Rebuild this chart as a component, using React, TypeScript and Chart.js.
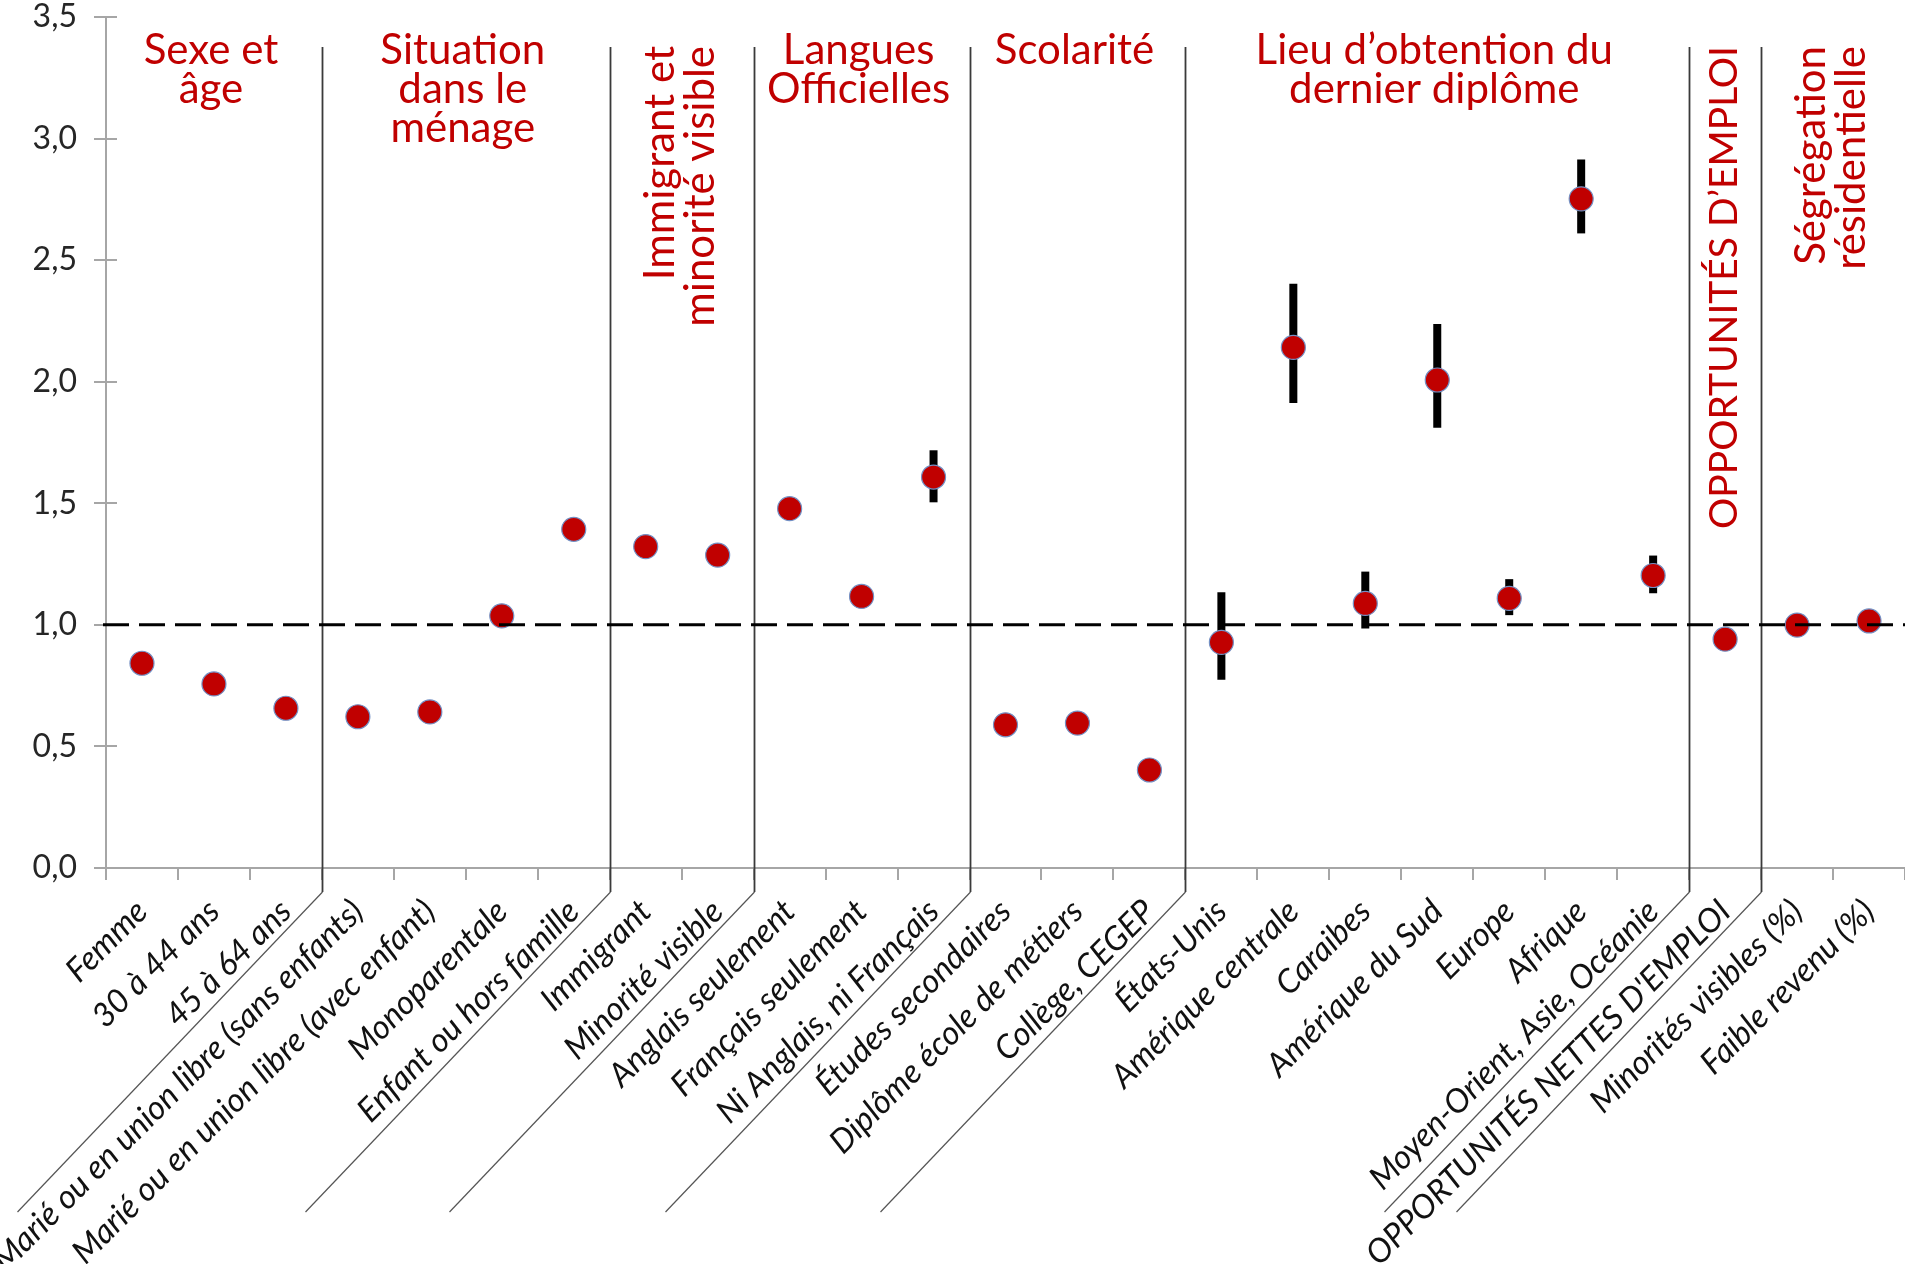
import React, { useEffect, useRef } from "react";
import { Chart, registerables } from "chart.js";

Chart.register(...registerables);

const categories = [
  "Femme",
  "30 à 44 ans",
  "45 à 64 ans",
  "Marié ou en union libre (sans enfants)",
  "Marié ou en union libre (avec enfant)",
  "Monoparentale",
  "Enfant ou hors famille",
  "Immigrant",
  "Minorité visible",
  "Anglais seulement",
  "Français seulement",
  "Ni Anglais, ni Français",
  "Études secondaires",
  "Diplôme école de métiers",
  "Collège, CEGEP",
  "États-Unis",
  "Amérique centrale",
  "Caraibes",
  "Amérique du Sud",
  "Europe",
  "Afrique",
  "Moyen-Orient, Asie, Océanie",
  "OPPORTUNITÉS NETTES D'EMPLOI",
  "Minorités visibles (%)",
  "Faible revenu (%)",
];

const oddsRatio = [
  0.842, 0.757, 0.657, 0.622, 0.642, 1.037, 1.393, 1.322, 1.287, 1.478, 1.117,
  1.608, 0.589, 0.596, 0.403, 0.928, 2.141, 1.088, 2.007, 1.109, 2.752, 1.203,
  0.941, 0.999, 1.016,
];

const ciLow: (number | null)[] = [
  null, null, null, null, null, null, null, null, null, null, null,
  1.504, null, null, null, 0.774, 1.912, 0.985, 1.811, 1.04, 2.61, 1.13,
  null, null, null,
];

const ciHigh: (number | null)[] = [
  null, null, null, null, null, null, null, null, null, null, null,
  1.718, null, null, null, 1.134, 2.403, 1.219, 2.237, 1.188, 2.914, 1.285,
  null, null, null,
];

const yTickValues = [0, 0.5, 1, 1.5, 2, 2.5, 3, 3.5];
const referenceLevel = 1.0;

// index of first category of each new section (after the first one)
const sectionBreaks = [3, 7, 9, 12, 15, 22, 23];
const sectionTitles = [
  ["Sexe et", "âge"],
  ["Situation", "dans le", "ménage"],
  ["Immigrant et", "minorité visible"],
  ["Langues", "Officielles"],
  ["Scolarité"],
  ["Lieu d’obtention du", "dernier diplôme"],
  ["OPPORTUNITÉS D’EMPLOI"],
  ["Ségrégation", "résidentielle"],
];
const sectionVertical = [false, false, true, false, false, false, true, true];
const sectionFontSize = [42, 42, 42, 42, 42, 42, 39, 42];

const RED = "#C00000";
const AXIS_GRAY = "#a6a6a6";

const overlayPlugin = {
  id: "overlay",
  beforeDatasetsDraw(chart: any) {
    const { ctx, chartArea, scales } = chart;
    const x = scales.x;
    const y = scales.y;
    ctx.save();
    // inner part of y ticks
    ctx.strokeStyle = AXIS_GRAY;
    ctx.lineWidth = 2;
    yTickValues.forEach((v) => {
      const py = Math.round(y.getPixelForValue(v));
      ctx.beginPath();
      ctx.moveTo(chartArea.left, py);
      ctx.lineTo(chartArea.left + 11, py);
      ctx.stroke();
    });
    // section dividers
    sectionBreaks.forEach((b) => {
      const px = Math.round(x.getPixelForValue(b - 0.5)) + 0.5;
      ctx.strokeStyle = "#3a3a3a";
      ctx.lineWidth = 1.8;
      ctx.beginPath();
      ctx.moveTo(px, 47);
      ctx.lineTo(px, chartArea.bottom + 24);
      ctx.stroke();
      ctx.strokeStyle = "#555555";
      ctx.lineWidth = 1.2;
      ctx.beginPath();
      ctx.moveTo(px, chartArea.bottom + 24);
      ctx.lineTo(px - 305, chartArea.bottom + 344);
      ctx.stroke();
    });
    // confidence intervals
    ctx.strokeStyle = "#000";
    ctx.lineWidth = 8;
    ctx.lineCap = "butt";
    ciLow.forEach((lo, i) => {
      const hi = ciHigh[i];
      if (lo == null || hi == null) return;
      const px = x.getPixelForValue(i);
      ctx.beginPath();
      ctx.moveTo(px, y.getPixelForValue(hi));
      ctx.lineTo(px, y.getPixelForValue(lo));
      ctx.stroke();
    });
    ctx.restore();
  },
  afterDatasetsDraw(chart: any) {
    const { ctx, chartArea, scales } = chart;
    const x = scales.x;
    const y = scales.y;
    ctx.save();
    // reference dashed line
    const py = y.getPixelForValue(referenceLevel);
    ctx.strokeStyle = "#000";
    ctx.lineWidth = 3;
    ctx.setLineDash([26, 10]);
    ctx.beginPath();
    ctx.moveTo(chartArea.left - 3, py);
    ctx.lineTo(chartArea.right, py);
    ctx.stroke();
    ctx.setLineDash([]);
    // section headings
    ctx.fillStyle = RED;
    ctx.textBaseline = "alphabetic";
    const starts = [0, ...sectionBreaks];
    const ends = [...sectionBreaks, categories.length];
    sectionTitles.forEach((lines, s) => {
      const left = x.getPixelForValue(starts[s] - 0.5);
      const right = x.getPixelForValue(ends[s] - 0.5);
      const cx = (left + right) / 2;
      const n = lines.length;
      ctx.font = `${sectionFontSize[s]}px Lato`;
      if (sectionVertical[s]) {
        lines.forEach((line, i) => {
          const bx = cx + 12 + (i - (n - 1) / 2) * 40;
          ctx.save();
          ctx.translate(bx, 46);
          ctx.rotate(-Math.PI / 2);
          ctx.textAlign = "right";
          ctx.fillText(line, 0, 0);
          ctx.restore();
        });
      } else {
        ctx.textAlign = "center";
        lines.forEach((line, i) => {
          ctx.fillText(line, cx - 3, 64 + i * 39);
        });
      }
    });
    ctx.restore();
  },
};

export default function App() {
  const canvasRef = useRef<HTMLCanvasElement | null>(null);

  useEffect(() => {
    if (!canvasRef.current) return;
    const chart = new Chart(canvasRef.current, {
      type: "line",
      data: {
        labels: categories,
        datasets: [
          {
            label: "Rapport de cotes",
            data: oddsRatio,
            showLine: false,
            pointRadius: 12,
            pointHoverRadius: 12,
            pointBackgroundColor: RED,
            pointBorderColor: "#7390c4",
            pointBorderWidth: 1.2,
            clip: false as any,
          },
        ],
      },
      options: {
        responsive: false,
        animation: false,
        events: [],
        layout: {
          autoPadding: false,
          padding: { top: 17, right: 0, bottom: 0, left: 0 },
        },
        plugins: {
          legend: { display: false },
          tooltip: { enabled: false },
          title: { display: false },
        },
        scales: {
          x: {
            type: "category",
            offset: true,
            grid: {
              display: true,
              offset: true,
              drawOnChartArea: false,
              drawTicks: true,
              tickLength: 12,
              color: AXIS_GRAY,
              lineWidth: 2,
            },
            border: { display: true, color: AXIS_GRAY, width: 2 },
            ticks: {
              autoSkip: false,
              maxRotation: 45,
              minRotation: 45,
              padding: 12,
              color: "#111",
              font: { family: "Lato", size: 33, style: "italic" },
            },
            afterFit(scale: any) {
              scale.height = 396;
              scale.paddingLeft = 0;
              scale.paddingRight = 0;
            },
          },
          y: {
            min: 0,
            max: 3.5,
            afterBuildTicks(scale: any) {
              scale.ticks = yTickValues.map((v) => ({ value: v }));
            },
            ticks: {
              padding: 17,
              color: "#262626",
              font: { family: "Lato", size: 32 },
              callback: (v: any) => Number(v).toFixed(1).replace(".", ","),
            },
            grid: {
              drawOnChartArea: false,
              tickLength: 12,
              color: AXIS_GRAY,
              lineWidth: 2,
            },
            border: { display: true, color: AXIS_GRAY, width: 2 },
            afterFit(scale: any) {
              scale.width = 106;
              scale.paddingTop = 0;
              scale.paddingBottom = 0;
            },
          },
        },
      } as any,
      plugins: [overlayPlugin],
    });
    return () => chart.destroy();
  }, []);

  return (
    <canvas
      ref={canvasRef}
      width={1905}
      height={1264}
      style={{ position: "absolute", left: 0, top: 0, width: 1905, height: 1264, display: "block" }}
    />
  );
}
